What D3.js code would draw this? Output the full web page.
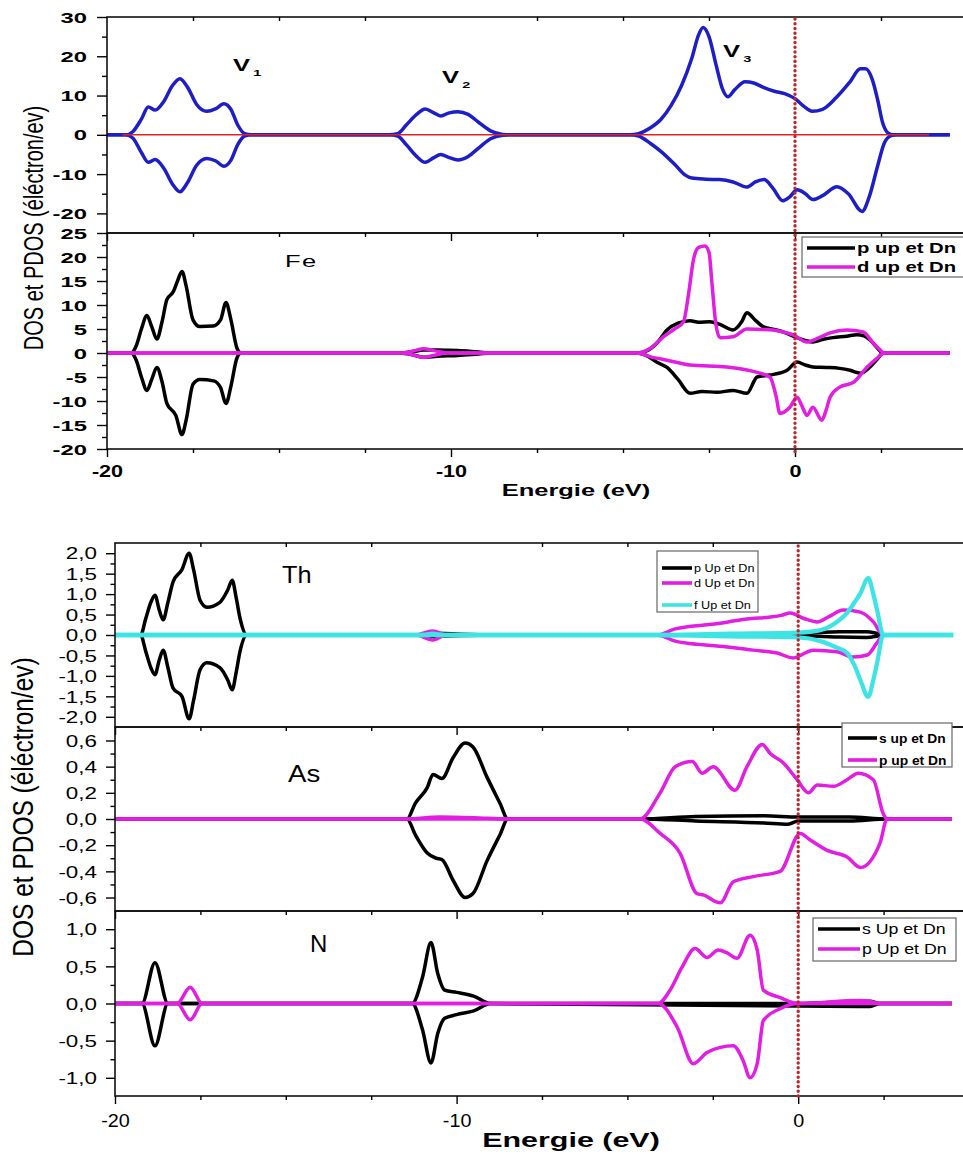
<!DOCTYPE html>
<html>
<head>
<meta charset="utf-8">
<script src="https://cdn.jsdelivr.net/npm/d3@7"></script>
<style>
  body { margin: 0; background: #fff; }
  svg { font-family: "Liberation Sans", Arial, sans-serif; display: block; }
</style>
</head>
<body>
<div id="chart"></div>
<script>
// ---------- data (energy eV, states/eV) ----------
const xMajor = [-20, -10, 0];
const xMinor = [-17.5, -15, -12.5, -7.5, -5, -2.5, 2.5];

// total DOS (top panel)
const totUp = [[-20,0],[-19.45,0],[-19.25,0.8],[-19.0,4],[-18.8,7.1],[-18.6,6.3],[-18.35,8.5],[-18.1,12.5],[-17.88,14.3],[-17.65,12],[-17.4,7.8],[-17.1,6],[-16.85,6.6],[-16.6,7.9],[-16.4,6.5],[-16.2,2.5],[-16.0,0.3],[-15.8,0],
  [-11.8,0],[-11.55,0.3],[-11.3,2.5],[-11.0,5.2],[-10.75,6.6],[-10.5,5.6],[-10.3,4.8],[-10.05,5.6],[-9.8,5.9],[-9.5,5.2],[-9.2,3.2],[-8.85,1],[-8.5,0.1],[-8.3,0],
  [-4.8,0],[-4.55,0.3],[-4.2,1.8],[-3.9,3.9],[-3.6,7.5],[-3.3,12.5],[-3.0,19.5],[-2.8,25.5],[-2.67,27.3],[-2.5,25],[-2.3,18],[-2.1,11.5],[-1.95,9.7],[-1.75,11.5],[-1.45,13.5],[-1.2,13.2],[-0.9,12],[-0.6,11.1],[-0.3,10.5],[0,9.2],[0.25,7.3],[0.5,6],[0.8,6.5],[1.2,9.5],[1.6,13.5],[1.9,16.8],[2.05,16.8],[2.25,14],[2.4,9],[2.55,3],[2.7,0.5],[2.85,0],[4.5,0]];
const totDn = [[-20,0],[-19.45,0],[-19.25,-0.8],[-19.0,-4.5],[-18.8,-7],[-18.6,-6.3],[-18.35,-8.5],[-18.1,-12.5],[-17.88,-14.5],[-17.65,-12],[-17.4,-7.8],[-17.1,-6],[-16.85,-6.6],[-16.6,-8],[-16.4,-6.5],[-16.2,-2.5],[-16.0,-0.3],[-15.8,0],
  [-11.8,0],[-11.55,-0.3],[-11.3,-2.5],[-11.0,-5.5],[-10.75,-7],[-10.5,-5.8],[-10.3,-5],[-10.05,-5.8],[-9.8,-6.4],[-9.5,-5.5],[-9.2,-3.4],[-8.85,-1],[-8.5,-0.1],[-8.3,0],
  [-4.8,0],[-4.55,-0.3],[-4.2,-2.2],[-3.9,-4.2],[-3.5,-7.5],[-3.2,-10.2],[-3.0,-11],[-2.6,-11.3],[-2.2,-11.4],[-1.8,-12],[-1.4,-13.3],[-1.15,-12],[-0.9,-11.4],[-0.65,-13.5],[-0.35,-16.8],[-0.15,-15.8],[0.06,-14],[0.3,-15],[0.52,-16.5],[0.8,-15.5],[1.22,-13.2],[1.55,-15],[1.95,-19.5],[2.15,-16],[2.4,-8],[2.6,-2],[2.8,-0.2],[2.95,0],[4.5,0]];
const totRed = [[-19.55,0],[3.9,0]];

// Fe PDOS
const feP_up = [[-20,0],[-19.3,0],[-19.15,1.5],[-19.0,5],[-18.84,7.8],[-18.7,5.5],[-18.55,2.9],[-18.4,6.5],[-18.26,11.1],[-18.07,12.8],[-17.95,15],[-17.82,17],[-17.7,14],[-17.5,6.9],[-17.3,5.5],[-16.92,5.6],[-16.7,6.9],[-16.54,10.5],[-16.4,7],[-16.22,1],[-16.1,0],
  [-11.5,0],[-11.1,0.3],[-10.8,0.6],[-10.4,0.6],[-9.8,0.5],[-9.2,0.2],[-8.8,0],
  [-4.6,0],[-4.3,0.5],[-4.0,2.2],[-3.72,4.8],[-3.4,6.2],[-3.05,6.7],[-2.8,6.4],[-2.47,6.5],[-2.2,6],[-1.8,4.8],[-1.55,6.5],[-1.4,8.4],[-1.15,6.8],[-0.93,5.5],[-0.6,4.9],[-0.35,4.4],[0.06,3.2],[0.3,2.6],[0.52,2.3],[0.8,2.8],[1.1,3.2],[1.5,3.5],[1.8,3.8],[2.0,3.6],[2.18,2.7],[2.4,1],[2.56,0],[4.5,0]];
const feP_dn = [[-20,0],[-19.3,0],[-19.15,-1.5],[-19.0,-5],[-18.84,-7.8],[-18.7,-5.5],[-18.55,-3],[-18.4,-6],[-18.26,-10.5],[-18.0,-13],[-17.82,-17],[-17.7,-14],[-17.5,-6.5],[-17.3,-5.5],[-16.9,-5.8],[-16.7,-7.2],[-16.54,-10.5],[-16.4,-7],[-16.22,-1],[-16.1,0],
  [-11.5,0],[-11.1,-0.4],[-10.8,-0.9],[-10.4,-0.7],[-9.8,-0.5],[-9.2,-0.2],[-8.8,0],
  [-4.6,0],[-4.3,-0.6],[-4.0,-2],[-3.72,-3],[-3.4,-5.5],[-3.05,-8.4],[-2.7,-8],[-2.27,-8.2],[-1.8,-7.8],[-1.4,-8.4],[-1.1,-5],[-0.73,-4.6],[-0.23,-3.6],[0.06,-1.9],[0.3,-2.5],[0.52,-2.9],[0.9,-3],[1.3,-3.2],[1.6,-3.6],[1.9,-4.2],[2.18,-2.9],[2.4,-1.2],[2.56,0],[4.5,0]];
const feD_up = [[-20,0],[-11.4,0],[-11.0,0.6],[-10.8,0.9],[-10.5,0.5],[-10.1,0],
  [-4.6,0],[-4.2,1],[-3.82,3.4],[-3.5,5],[-3.24,6.5],[-3.1,12],[-2.95,19.5],[-2.8,22],[-2.62,22.3],[-2.5,21],[-2.42,15],[-2.3,6],[-2.18,3.2],[-1.8,3.4],[-1.4,5],[-1.0,4.9],[-0.64,4.8],[-0.3,4.3],[-0.06,3.8],[0.35,2.3],[0.7,3.2],[1.02,4.2],[1.5,4.8],[1.98,4.4],[2.27,2.1],[2.45,0.8],[2.6,0],[4.5,0]];
const feD_dn = [[-20,0],[-11.4,0],[-11.0,-0.6],[-10.8,-0.9],[-10.5,-0.5],[-10.1,0],
  [-4.6,0],[-4.2,-0.8],[-3.72,-1.5],[-3.05,-2.5],[-1.98,-2.9],[-1.02,-4.2],[-0.73,-5],[-0.55,-9],[-0.44,-12.6],[-0.15,-11.3],[0.06,-9.2],[0.2,-11],[0.35,-13],[0.52,-11.3],[0.78,-14],[0.9,-12],[1.02,-9.2],[1.3,-7.1],[1.7,-6.1],[2.1,-2.9],[2.4,-1],[2.6,0],[4.5,0]];

// Th PDOS
const thP_up = [[-20,0],[-19.25,0],[-19.1,0.4],[-18.95,0.8],[-18.83,0.97],[-18.7,0.6],[-18.59,0.37],[-18.45,0.8],[-18.3,1.3],[-18.04,1.6],[-17.83,2.0],[-17.7,1.6],[-17.51,0.85],[-17.31,0.68],[-16.93,0.8],[-16.7,1.1],[-16.57,1.34],[-16.45,0.9],[-16.34,0.41],[-16.14,0],
  [-11.2,0],[-10.7,0.04],[-9.0,0],[-2.6,0],[-1.5,0.02],[0,0.03],[0.6,0.06],[1.2,0.08],[2.0,0.08],[2.3,0.04],[2.49,0],[4.5,0]];
const thP_dn = [[-20,0],[-19.25,0],[-19.1,-0.4],[-18.95,-0.8],[-18.83,-0.97],[-18.7,-0.6],[-18.59,-0.37],[-18.45,-0.8],[-18.3,-1.3],[-18.04,-1.5],[-17.83,-2.05],[-17.7,-1.6],[-17.51,-0.85],[-17.31,-0.68],[-16.93,-0.8],[-16.7,-1.1],[-16.57,-1.34],[-16.45,-0.9],[-16.34,-0.4],[-16.14,0],
  [-11.2,0],[-10.7,-0.03],[-9.0,0],[-2.6,0],[-1.5,-0.01],[0,-0.02],[0.6,-0.03],[1.2,-0.05],[2.0,-0.06],[2.3,-0.03],[2.49,0],[4.5,0]];
const thD_up = [[-20,0],[-11.2,0],[-10.7,0.1],[-10.3,0],
  [-4.13,0],[-3.6,0.15],[-3.25,0.2],[-2.8,0.24],[-2.28,0.29],[-1.9,0.34],[-1.5,0.39],[-0.82,0.44],[-0.5,0.48],[-0.23,0.54],[0.15,0.41],[0.56,0.32],[0.9,0.45],[1.32,0.61],[1.82,0.56],[2.2,0.32],[2.49,0],[4.5,0]];
const thD_dn = [[-20,0],[-11.2,0],[-10.7,-0.12],[-10.3,0],
  [-4.13,0],[-3.6,-0.15],[-3.25,-0.2],[-2.78,-0.24],[-2.0,-0.3],[-1.32,-0.37],[-0.62,-0.44],[-0.15,-0.56],[0.44,-0.37],[1.14,-0.41],[1.61,-0.54],[2.02,-0.49],[2.3,-0.2],[2.49,0],[4.5,0]];
const thF_up = [[-20,0],[-11,0],[-10.7,0.03],[-10.4,0],[-4.13,0],[-2,0.03],[0,0.06],[0.65,0.12],[1.1,0.3],[1.43,0.54],[1.65,0.8],[1.82,1.02],[2.05,1.39],[2.2,1.0],[2.31,0.61],[2.49,0],[4.54,0]];
const thF_dn = [[-20,0],[-4.13,0],[-2,-0.03],[0,-0.06],[0.65,-0.15],[1.1,-0.3],[1.43,-0.44],[1.65,-0.75],[1.82,-1.1],[2.05,-1.51],[2.2,-1.1],[2.31,-0.68],[2.49,0],[4.54,0]];

// As PDOS
const asS_up = [[-20,0],[-11.45,0],[-11.21,0.12],[-10.86,0.24],[-10.69,0.34],[-10.43,0.31],[-10.1,0.47],[-9.75,0.58],[-9.52,0.55],[-9.11,0.32],[-8.73,0.12],[-8.5,0],
  [-4.6,0],[-3,0.02],[-1,0.025],[0,0.015],[1.5,0.015],[2.6,0],[4.5,0]];
const asS_dn = [[-20,0],[-11.45,0],[-11.21,-0.12],[-10.86,-0.26],[-10.6,-0.3],[-10.43,-0.31],[-10.1,-0.47],[-9.75,-0.6],[-9.52,-0.57],[-9.11,-0.32],[-8.73,-0.12],[-8.5,0],
  [-4.6,0],[-3,-0.015],[-1,-0.03],[-0.3,-0.04],[0,-0.015],[1.5,-0.015],[2.6,0],[4.5,0]];
const asP_up = [[-20,0],[-11.45,0],[-10.5,0.015],[-9.5,0.01],[-8.5,0],[-4.63,0],[-4.04,0.2],[-3.6,0.4],[-3.1,0.44],[-2.81,0.35],[-2.49,0.4],[-1.85,0.22],[-1.5,0.4],[-1.05,0.57],[-0.82,0.5],[-0.44,0.43],[-0.03,0.3],[0.3,0.2],[0.56,0.26],[1.03,0.25],[1.43,0.3],[1.76,0.35],[2.2,0.3],[2.49,0.04],[2.6,0],[4.5,0]];
const asP_dn = [[-20,0],[-8.5,0],[-4.63,0],[-4.04,-0.11],[-3.46,-0.26],[-2.96,-0.57],[-2.78,-0.58],[-2.28,-0.64],[-1.9,-0.48],[-1.32,-0.44],[-0.53,-0.4],[0.06,-0.11],[0.35,-0.16],[0.85,-0.24],[1.43,-0.29],[1.82,-0.37],[2.4,-0.18],[2.6,0],[4.5,0]];

// N PDOS
const nS_up = [[-20,0],[-19.21,0],[-18.83,0.55],[-18.45,0],[-11.3,0],[-11.0,0.35],[-10.75,0.82],[-10.55,0.4],[-10.35,0.18],[-10.0,0.15],[-9.5,0.1],[-9.0,0],[-4.1,0],[0,0],[1.8,0.03],[2.1,0.03],[2.4,0],[4.5,0]];
const nS_dn = [[-20,0],[-19.21,0],[-18.83,-0.57],[-18.45,0],[-11.3,0],[-11.0,-0.35],[-10.75,-0.8],[-10.55,-0.4],[-10.35,-0.2],[-10.0,-0.15],[-9.5,-0.1],[-9.0,0],[1.8,-0.04],[2.1,-0.04],[2.4,0],[4.5,0]];
const nP_up = [[-20,0],[-18.18,0],[-17.8,0.22],[-17.45,0],[-4.1,0],[-3.75,0.18],[-3.4,0.49],[-3.02,0.74],[-2.67,0.62],[-2.34,0.72],[-2.08,0.68],[-1.79,0.61],[-1.41,0.92],[-1.2,0.72],[-1.02,0.18],[-0.53,0.08],[0,0],[1.8,0.04],[2.1,0.03],[2.4,0],[4.5,0]];
const nP_dn = [[-20,0],[-18.18,0],[-17.8,-0.22],[-17.45,0],[-4.1,0],[-3.54,-0.32],[-3.07,-0.81],[-2.67,-0.66],[-2.28,-0.59],[-1.9,-0.57],[-1.61,-0.77],[-1.41,-1.0],[-1.2,-0.81],[-1.02,-0.23],[-0.53,-0.07],[0,0],[4.5,0]];

// y tick values
const totTicks = [-20, -10, 0, 10, 20, 30];
const totMinor = [-15, -5, 5, 15, 25];
const feTicks = [-20, -15, -10, -5, 0, 5, 10, 15, 20, 25];
const feMinor = [-17.5, -12.5, -7.5, -2.5, 2.5, 7.5, 12.5, 17.5, 22.5];
const thTicks = [-2, -1.5, -1, -0.5, 0, 0.5, 1, 1.5, 2];
const thMinor = [-1.75, -1.25, -0.75, -0.25, 0.25, 0.75, 1.25, 1.75];
const asTicks = [-0.6, -0.4, -0.2, 0, 0.2, 0.4, 0.6];
const asMinor = [-0.5, -0.3, -0.1, 0.1, 0.3, 0.5];
const nTicks = [-1, -0.5, 0, 0.5, 1];
const nMinor = [-0.75, -0.25, 0.25, 0.75];

// legends
const feLegend = ["p up et Dn", "d up et Dn"];
const thLegend = ["p Up et Dn", "d Up et Dn", "f  Up et Dn"];
const asLegend = ["s up et Dn", "p up et Dn"];
const nLegend = ["s Up et Dn", "p Up et Dn"];

// ---------- drawing ----------
const BLUE = "#1e1ec8", BLACK = "#000", MAG = "#e11ee1", CYAN = "#3ee4e4", RED = "#e02222", DOT = "#c0262b";

const svg = d3.select("#chart").append("svg")
    .attr("width", 963).attr("height", 1155);

const xTop = d3.scaleLinear().domain([-20, 5]).range([107, 967]);
const xBot = d3.scaleLinear().domain([-20, 5]).range([115, 969]);

const intFmt = d => String(d);
const comFmt = d => d3.format(".1f")(d).replace("−", "-").replace(".", ",");

// text with horizontal stretch (the source picture is stretched sideways)
function addText(g, x, y, str, size, o = {}) {
    return g.append("text")
        .attr("transform", `translate(${x},${y}) scale(${o.sx || 1},1)${o.rot ? " rotate(-90)" : ""}`)
        .attr("font-size", size)
        .attr("font-weight", o.bold ? "bold" : "normal")
        .attr("text-anchor", o.anchor || "start")
        .attr("letter-spacing", o.ls || 0)
        .text(str);
}

function drawPanel(p) {
    const g = svg.append("g");
    const x = p.x, y = p.y;
    const [y0, y1] = y.range(); // bottom, top
    const xl = x.range()[0];

    // series
    const line = d3.line().x(d => x(d[0])).y(d => y(d[1])).curve(d3.curveMonotoneX);
    p.series.forEach(s => {
        g.append("path").datum(s.data)
            .attr("fill", "none").attr("stroke", s.color)
            .attr("stroke-width", s.w).attr("stroke-linejoin", "round")
            .attr("d", line);
    });

    // frame
    g.append("rect").attr("x", xl).attr("y", y1)
        .attr("width", x.range()[1] - xl).attr("height", y0 - y1)
        .attr("fill", "none").attr("stroke", "#111").attr("stroke-width", 1.6);

    // y axis
    const ya = g.append("g").attr("transform", `translate(${xl},0)`)
        .call(d3.axisLeft(y).tickValues(p.ticks).tickSize(p.tick).tickFormat(p.fmt));
    ya.select(".domain").remove();
    ya.selectAll("line").attr("stroke-width", 1.4);
    ya.selectAll("text")
        .attr("x", null).attr("dy", "0.36em")
        .attr("transform", `translate(${p.labOff},0) scale(${p.labSx},1)`)
        .attr("font-size", p.labSize).attr("font-weight", p.bold ? "bold" : "normal")
        .attr("font-family", null).attr("fill", "#000");
    const ym = g.append("g").attr("transform", `translate(${xl},0)`)
        .call(d3.axisLeft(y).tickValues(p.minor).tickSize(p.tick / 2).tickFormat(""));
    ym.select(".domain").remove();
    ym.selectAll("line").attr("stroke-width", 1.4);

    // x axis ticks (bottom, outward)
    const xa = g.append("g").attr("transform", `translate(0,${y0})`)
        .call(d3.axisBottom(x).tickValues(xMajor).tickSize(8).tickFormat(p.xlab ? p.xfmt : ""));
    xa.select(".domain").remove();
    xa.selectAll("line").attr("stroke-width", 1.4);
    if (p.xlab) {
        xa.selectAll("text")
            .attr("y", null).attr("dy", null)
            .attr("transform", `translate(0,${p.xlabY}) scale(${p.xlabSx},1)`)
            .attr("font-size", p.xlabSize).attr("font-weight", p.bold ? "bold" : "normal")
            .attr("font-family", null).attr("fill", "#000");
    }
    const xm = g.append("g").attr("transform", `translate(0,${y0})`)
        .call(d3.axisBottom(x).tickValues(xMinor).tickSize(4).tickFormat(""));
    xm.select(".domain").remove();
    xm.selectAll("line").attr("stroke-width", 1.4);

    if (p.topTicks) {
        const xt = g.append("g").attr("transform", `translate(0,${y1})`)
            .call(d3.axisTop(x).tickValues(xMinor).tickSize(-4).tickFormat(""));
        xt.select(".domain").remove();
        xt.selectAll("line").attr("stroke-width", 1.4);
    }
    return g;
}

function drawLegend(x, y, w, h, items, colors, o) {
    const g = svg.append("g");
    g.append("rect").attr("x", x).attr("y", y).attr("width", w).attr("height", h)
        .attr("fill", "#fff").attr("stroke", "#666").attr("stroke-width", 1.2);
    items.forEach((t, i) => {
        const ly = o.rows[i];
        g.append("line").attr("x1", o.l0).attr("x2", o.l1).attr("y1", ly).attr("y2", ly)
            .attr("stroke", colors[i]).attr("stroke-width", o.lw);
        addText(g, o.l1 + 2, ly + o.base, t, o.size, { sx: o.sx, bold: o.bold });
    });
}

function fermi(x, ya, yb) {
    svg.append("line").attr("x1", x).attr("x2", x).attr("y1", ya).attr("y2", yb)
        .attr("stroke", DOT).attr("stroke-width", 3.4).attr("stroke-linecap", "round")
        .attr("stroke-dasharray", "0.1,4.6");
}

// ---- top figure ----
const yTot = d3.scaleLinear().domain([-25, 30]).range([233, 17]);
const yFe = d3.scaleLinear().domain([-20, 25]).range([449, 233]);

drawPanel({ x: xTop, y: yTot, ticks: totTicks, minor: totMinor, tick: 10, fmt: intFmt,
    labOff: -20, labSx: 1.7, labSize: 14, bold: true, topTicks: true,
    series: [ { data: totUp, color: BLUE, w: 3.5 }, { data: totDn, color: BLUE, w: 3.5 },
              { data: totRed, color: RED, w: 1.6 } ] });
drawPanel({ x: xTop, y: yFe, ticks: feTicks, minor: feMinor, tick: 10, fmt: intFmt,
    labOff: -20, labSx: 1.7, labSize: 14, bold: true,
    xlab: true, xfmt: intFmt, xlabY: 28, xlabSx: 1.35, xlabSize: 16,
    series: [ { data: feP_up, color: BLACK, w: 3.5 }, { data: feP_dn, color: BLACK, w: 3.5 },
              { data: feD_up, color: MAG, w: 3.5 }, { data: feD_dn, color: MAG, w: 3.5 } ] });

fermi(xTop(0), 19, 456);

const ann = svg.append("g");
addText(ann, 233, 71, "V", 16, { bold: true, sx: 1.6 })
    .append("tspan").attr("font-size", 9).attr("dx", 2).attr("dy", 5).text("1");
addText(ann, 442, 83, "V", 16, { bold: true, sx: 1.6 })
    .append("tspan").attr("font-size", 9).attr("dx", 2).attr("dy", 5).text("2");
addText(ann, 723, 57, "V", 16, { bold: true, sx: 1.6 })
    .append("tspan").attr("font-size", 9).attr("dx", 2).attr("dy", 5).text("3");
addText(ann, 285, 267, "Fe", 17, { sx: 1.5, ls: 1 });

drawLegend(802, 237, 200, 40, feLegend, [BLACK, MAG],
    { rows: [248, 267], l0: 807, l1: 855, lw: 3.4, base: 5, size: 14, sx: 1.45, bold: true });

addText(svg, 576, 496, "Energie (eV)", 17, { bold: true, sx: 1.5, anchor: "middle" });
addText(svg, 43, 228, "DOS et PDOS (éléctron/ev)", 20, { sx: 1.4, rot: true, anchor: "middle" });

// ---- bottom figure ----
const yTh = d3.scaleLinear().domain([-2.25, 2.25]).range([727, 543]);
const yAs = d3.scaleLinear().domain([-0.703, 0.703]).range([911, 727]);
const yN = d3.scaleLinear().domain([-1.245, 1.245]).range([1096, 911]);

drawPanel({ x: xBot, y: yTh, ticks: thTicks, minor: thMinor, tick: 9, fmt: comFmt,
    labOff: -18, labSx: 1.4, labSize: 16, topTicks: true,
    series: [ { data: thP_up, color: BLACK, w: 3.5 }, { data: thP_dn, color: BLACK, w: 3.5 },
              { data: thD_up, color: MAG, w: 3.5 }, { data: thD_dn, color: MAG, w: 3.5 },
              { data: thF_up, color: CYAN, w: 4.3 }, { data: thF_dn, color: CYAN, w: 4.3 } ] });
drawPanel({ x: xBot, y: yAs, ticks: asTicks, minor: asMinor, tick: 9, fmt: comFmt,
    labOff: -18, labSx: 1.4, labSize: 16,
    series: [ { data: asS_up, color: BLACK, w: 3.5 }, { data: asS_dn, color: BLACK, w: 3.5 },
              { data: asP_up, color: MAG, w: 3.5 }, { data: asP_dn, color: MAG, w: 3.5 } ] });
drawPanel({ x: xBot, y: yN, ticks: nTicks, minor: nMinor, tick: 9, fmt: comFmt,
    labOff: -18, labSx: 1.4, labSize: 16,
    xlab: true, xfmt: intFmt, xlabY: 31, xlabSx: 1.1, xlabSize: 18,
    series: [ { data: nS_up, color: BLACK, w: 3.5 }, { data: nS_dn, color: BLACK, w: 3.5 },
              { data: nP_up, color: MAG, w: 3.5 }, { data: nP_dn, color: MAG, w: 3.5 } ] });

fermi(xBot(0), 546, 1100);

addText(ann, 282, 583, "Th", 23, { sx: 1.1 });
addText(ann, 288, 782, "As", 23, { sx: 1.2 });
addText(ann, 310, 952, "N", 24, { sx: 1.0 });

drawLegend(657, 551, 101, 61, thLegend, [BLACK, MAG, CYAN],
    { rows: [568, 583, 605], l0: 662, l1: 692, lw: 3.6, base: 4, size: 11, sx: 1.15 });
drawLegend(842, 723, 110, 44, asLegend, [BLACK, MAG],
    { rows: [738, 760], l0: 848, l1: 877, lw: 3.6, base: 4.5, size: 12, sx: 1.15, bold: true });
drawLegend(813, 918, 143, 43, nLegend, [BLACK, MAG],
    { rows: [929, 949], l0: 818, l1: 860, lw: 3.6, base: 5, size: 15, sx: 1.18 });

addText(svg, 571, 1147, "Energie (eV)", 21, { bold: true, sx: 1.45, anchor: "middle" });
addText(svg, 33, 807, "DOS et PDOS (éléctron/ev)", 24.5, { sx: 1.2, rot: true, anchor: "middle" });
</script>
</body>
</html>
